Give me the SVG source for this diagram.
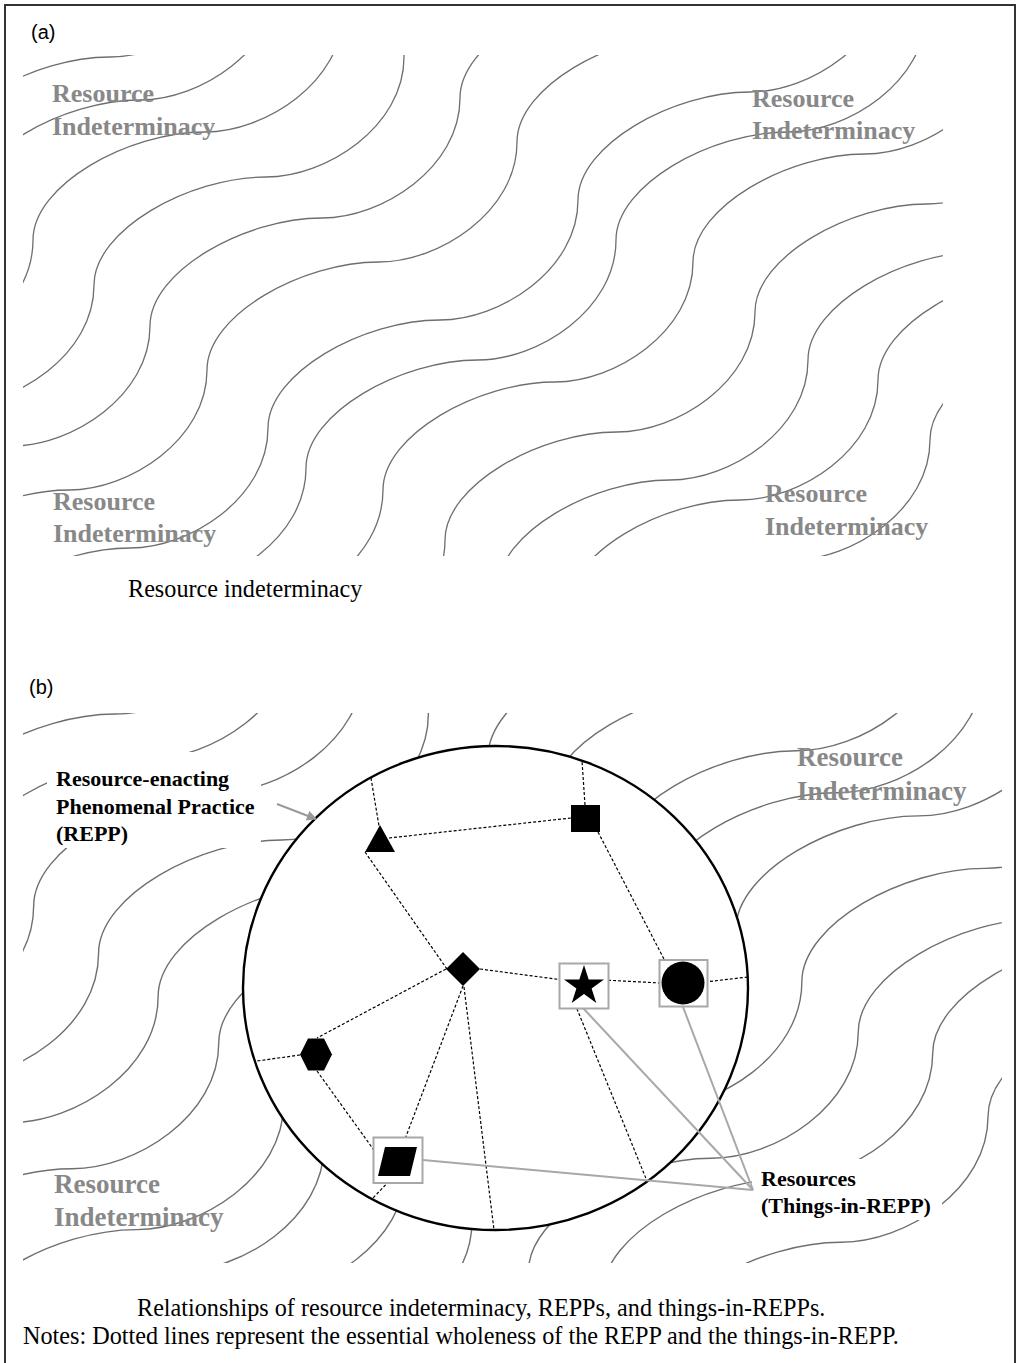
<svg xmlns="http://www.w3.org/2000/svg" width="1020" height="1363" viewBox="0 0 1020 1363">
<style>
  .wave{fill:none;stroke:#6e6e6e;stroke-width:1.3}
  .ri{font-family:"Liberation Serif","Times New Roman",serif;font-weight:bold;fill:#888888}
  .lbl{font-family:"Liberation Serif","Times New Roman",serif;font-weight:bold;font-size:22px;fill:#000}
  .cap{font-family:"Liberation Serif","Times New Roman",serif;font-size:24.2px;fill:#000}
  .pl{font-family:"Liberation Sans",Arial,sans-serif;font-size:20px;fill:#000}
  .dot{fill:none;stroke:#000;stroke-width:1.2;stroke-dasharray:3 2}
  .gline{fill:none;stroke:#a8a8a8;stroke-width:2}
  .gbox{fill:#fff;stroke:#a8a8a8;stroke-width:2}
  .shape{fill:#000}
</style>
<defs>
  <path id="w" class="wave" d="M-930,684 c0,-55 95,-108 172,-108 c60,0 138,-50 138,-120 c0,-55 95,-108 172,-108 c60,0 138,-50 138,-120 c0,-55 95,-108 172,-108 c60,0 138,-50 138,-120 c0,-55 95,-108 172,-108 c60,0 138,-50 138,-120 c0,-55 95,-108 172,-108 c60,0 138,-50 138,-120 c0,-55 95,-108 172,-108 c60,0 138,-50 138,-120"/>
  <g id="wavelines">
    <use href="#w" x="-62" y="165"/>
    <use href="#w" x="-32" y="208"/>
    <use href="#w" x="33" y="240"/>
    <use href="#w" x="94" y="285"/>
    <use href="#w" x="150" y="326"/>
    <use href="#w" x="207" y="370"/>
    <use href="#w" x="268" y="428"/>
    <use href="#w" x="306" y="468"/>
    <use href="#w" x="383" y="490"/>
    <use href="#w" x="445" y="540"/>
    <use href="#w" x="498" y="588"/>
    <use href="#w" x="568" y="608"/>
    <use href="#w" x="930" y="440"/>
  </g>
  <clipPath id="clipA"><rect x="23" y="55" width="920" height="501"/></clipPath>
  <clipPath id="clipB"><rect x="23" y="713" width="979" height="550"/></clipPath>
  <marker id="arrowhead" viewBox="0 0 10 10" refX="9" refY="5" markerWidth="12" markerHeight="10" markerUnits="userSpaceOnUse" orient="auto">
    <path d="M0,0 L10,5 L0,10 z" fill="#999"/>
  </marker>
</defs>

<rect x="0" y="0" width="1020" height="1363" fill="#fff"/>
<path id="frame" d="M5,1363 V5 H1015 V1363" fill="none" stroke="#333" stroke-width="2"/>

<!-- Panel (a) -->
<g id="panel-a">
  <text class="pl" x="31" y="39">(a)</text>
  <g id="waves-a" clip-path="url(#clipA)">
    <use href="#wavelines"/>
  </g>
  <g id="ri-a-tl"><text class="ri" font-size="26" x="52" y="102">Resource</text><text class="ri" font-size="26" x="52" y="134.5">Indeterminacy</text></g>
  <g id="ri-a-tr"><text class="ri" font-size="26" x="752" y="106.5">Resource</text><text class="ri" font-size="26" x="752" y="139">Indeterminacy</text></g>
  <g id="ri-a-bl"><text class="ri" font-size="26" x="53" y="510">Resource</text><text class="ri" font-size="26" x="53" y="541.5">Indeterminacy</text></g>
  <g id="ri-a-br"><text class="ri" font-size="26" x="765" y="502">Resource</text><text class="ri" font-size="26" x="765" y="535">Indeterminacy</text></g>
  <text class="cap" x="128" y="597">Resource indeterminacy</text>
</g>

<!-- Panel (b) -->
<g id="panel-b">
  <text class="pl" x="29" y="694">(b)</text>
  <g id="waves-b" clip-path="url(#clipB)">
    <g transform="matrix(1.064,0,0,1.05,-1.47,654.2)">
      <use href="#wavelines"/>
    </g>
  </g>
  <g id="ri-b-tr"><text class="ri" font-size="27" x="797" y="766">Resource</text><text class="ri" font-size="27" x="797" y="800">Indeterminacy</text></g>
  <g id="ri-b-bl"><text class="ri" font-size="27" x="54" y="1193">Resource</text><text class="ri" font-size="27" x="54" y="1226">Indeterminacy</text></g>

  <g id="repp">
    <ellipse cx="495.5" cy="988" rx="252.5" ry="242" fill="#fff" stroke="#000" stroke-width="2.4"/>
  </g>

  <g id="label-repp">
    <rect x="47" y="752" width="214" height="96" fill="#fff"/>
    <text class="lbl" x="56" y="786">Resource-enacting</text>
    <text class="lbl" x="56" y="814">Phenomenal Practice</text>
    <text class="lbl" x="56" y="841">(REPP)</text>
  </g>
  <g id="label-resources">
    <rect x="752" y="1159" width="190" height="61" fill="#fff"/>
    <text class="lbl" x="761" y="1186">Resources</text>
    <text class="lbl" x="761" y="1213">(Things-in-REPP)</text>
  </g>

  <g id="connectors">
    <line class="dot" x1="371" y1="778" x2="379" y2="826"/>
    <line class="dot" x1="389" y1="838" x2="571" y2="818"/>
    <line class="dot" x1="585" y1="805" x2="582" y2="761"/>
    <line class="dot" x1="598" y1="832" x2="665" y2="961"/>
    <line class="dot" x1="365" y1="852" x2="447" y2="969"/>
    <line class="dot" x1="480" y1="969" x2="563" y2="980"/>
    <line class="dot" x1="603" y1="980" x2="661" y2="983"/>
    <line class="dot" x1="705" y1="982" x2="748" y2="977"/>
    <line class="dot" x1="446" y1="969" x2="317" y2="1038"/>
    <line class="dot" x1="300" y1="1055" x2="257" y2="1061"/>
    <line class="dot" x1="317" y1="1071" x2="381" y2="1160"/>
    <line class="dot" x1="463" y1="986" x2="402" y2="1147"/>
    <line class="dot" x1="396" y1="1174" x2="372" y2="1199"/>
    <line class="dot" x1="464" y1="987" x2="494" y2="1230"/>
    <line class="dot" x1="575" y1="1004" x2="647" y2="1181"/>
    <line class="gline" x1="583" y1="1008" x2="753" y2="1190"/>
    <line class="gline" x1="683" y1="1007" x2="753" y2="1190"/>
    <line class="gline" x1="423" y1="1160" x2="753" y2="1190"/>
    <line x1="277" y1="804" x2="316" y2="819" stroke="#999" stroke-width="2" marker-end="url(#arrowhead)"/>
  </g>

  <g id="node-triangle"><polygon class="shape" points="380,825 395,852 365,852"/></g>
  <g id="node-square"><rect class="shape" x="571" y="805" width="29" height="27"/></g>
  <g id="node-diamond"><polygon class="shape" points="446,969 463,952 480,969 463,986"/></g>
  <g id="node-star">
    <rect class="gbox" x="559.5" y="963.5" width="49" height="45"/>
    <polygon class="shape" points="584,965 588.7,979.5 604,979.5 591.6,988.5 596.3,1003 584,994 571.7,1003 576.4,988.5 564,979.5 579.3,979.5"/>
  </g>
  <g id="node-circle">
    <rect class="gbox" x="659.5" y="960" width="48" height="46.5"/>
    <circle class="shape" cx="683" cy="983" r="21.5"/>
  </g>
  <g id="node-hexagon"><polygon class="shape" points="300,1054.5 308,1038.5 324,1038.5 332,1054.5 324,1070.5 308,1070.5"/></g>
  <g id="node-parallelogram">
    <rect class="gbox" x="373.5" y="1137.5" width="49" height="45.5"/>
    <polygon class="shape" points="385,1147 417,1147 410,1176 378,1176"/>
  </g>
</g>

<g id="caption">
  <text class="cap" x="137" y="1316">Relationships of resource indeterminacy, REPPs, and things-in-REPPs.</text>
  <text class="cap" x="23" y="1344">Notes: Dotted lines represent the essential wholeness of the REPP and the things-in-REPP.</text>
</g>
</svg>
